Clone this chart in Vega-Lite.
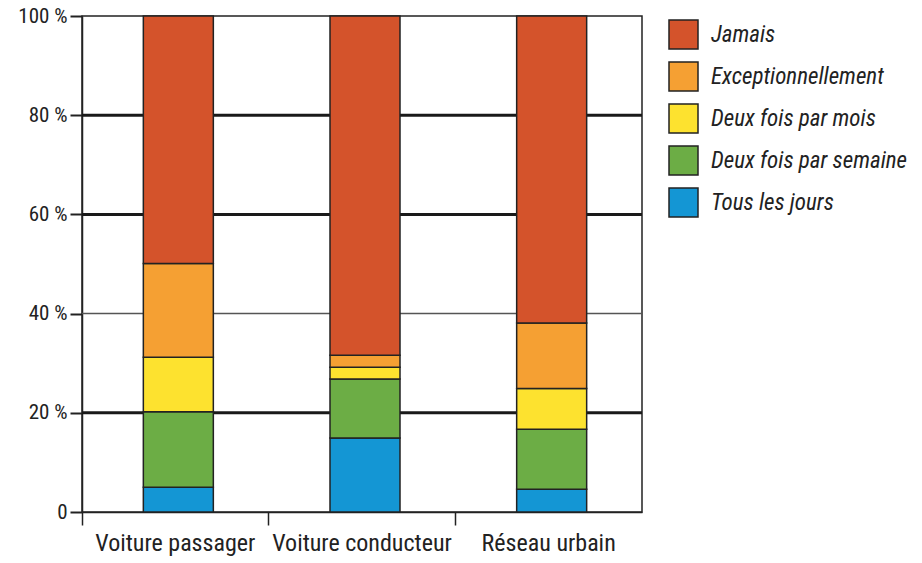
{
  "$schema": "https://vega.github.io/schema/vega-lite/v6.json",
  "width": 560,
  "height": 496,
  "autosize": {"type": "none"},
  "padding": {"left": 82, "top": 16, "right": 280, "bottom": 51},
  "background": "white",
  "config": {
    "view": {"stroke": "#222", "strokeWidth": 1.5},
    "font": "Liberation Sans Narrow, Roboto Condensed, DejaVu Sans Condensed, sans-serif"
  },
  "layer": [
    {
      "data": {"values": [{"niveau": 40}]},
      "mark": {"type": "rule", "color": "#555", "strokeWidth": 1.5},
      "encoding": {"y": {"field": "niveau", "type": "quantitative", "scale": {"domain": [0, 100]}}}
    },
    {
      "data": {"values": [{"niveau": 20}, {"niveau": 60}, {"niveau": 80}]},
      "mark": {"type": "rule", "color": "#1a1a1a", "strokeWidth": 3},
      "encoding": {"y": {"field": "niveau", "type": "quantitative"}}
    },
    {
      "data": {
        "values": [
          {"mode": "Voiture passager", "frequence": "Tous les jours", "ordre": 1, "pct": 5},
          {"mode": "Voiture passager", "frequence": "Deux fois par semaine", "ordre": 2, "pct": 15.2},
          {"mode": "Voiture passager", "frequence": "Deux fois par mois", "ordre": 3, "pct": 11},
          {"mode": "Voiture passager", "frequence": "Exceptionnellement", "ordre": 4, "pct": 18.9},
          {"mode": "Voiture passager", "frequence": "Jamais", "ordre": 5, "pct": 49.9},
          {"mode": "Voiture conducteur", "frequence": "Tous les jours", "ordre": 1, "pct": 14.9},
          {"mode": "Voiture conducteur", "frequence": "Deux fois par semaine", "ordre": 2, "pct": 11.9},
          {"mode": "Voiture conducteur", "frequence": "Deux fois par mois", "ordre": 3, "pct": 2.4},
          {"mode": "Voiture conducteur", "frequence": "Exceptionnellement", "ordre": 4, "pct": 2.4},
          {"mode": "Voiture conducteur", "frequence": "Jamais", "ordre": 5, "pct": 68.4},
          {"mode": "Réseau urbain", "frequence": "Tous les jours", "ordre": 1, "pct": 4.6},
          {"mode": "Réseau urbain", "frequence": "Deux fois par semaine", "ordre": 2, "pct": 12.1},
          {"mode": "Réseau urbain", "frequence": "Deux fois par mois", "ordre": 3, "pct": 8.2},
          {"mode": "Réseau urbain", "frequence": "Exceptionnellement", "ordre": 4, "pct": 13.2},
          {"mode": "Réseau urbain", "frequence": "Jamais", "ordre": 5, "pct": 61.9}
        ]
      },
      "mark": {"type": "bar", "size": 70, "xOffset": 3, "stroke": "#222", "strokeWidth": 1.5},
      "encoding": {
        "x": {
          "field": "mode",
          "type": "nominal",
          "sort": ["Voiture passager", "Voiture conducteur", "Réseau urbain"],
          "scale": {"paddingInner": 0, "paddingOuter": 0},
          "axis": {
            "title": null,
            "labelAngle": 0,
            "labelFontSize": 24,
            "labelColor": "#222",
            "labelPadding": 6,
            "bandPosition": 0,
            "tickSize": 13,
            "tickColor": "#222",
            "tickWidth": 1.5,
            "domainColor": "#222",
            "domainWidth": 1.5,
            "grid": false
          }
        },
        "y": {
          "field": "pct",
          "type": "quantitative",
          "stack": "zero",
          "scale": {"domain": [0, 100]},
          "axis": {
            "title": null,
            "values": [0, 20, 40, 60, 80, 100],
            "labelExpr": "datum.value == 0 ? '0' : datum.value + ' %'",
            "labelFontSize": 21,
            "labelColor": "#222",
            "labelPadding": 3,
            "tickSize": 12,
            "tickColor": "#222",
            "tickWidth": 2,
            "domainColor": "#222",
            "domainWidth": 1.5,
            "grid": false
          }
        },
        "color": {
          "field": "frequence",
          "type": "nominal",
          "scale": {
            "domain": ["Jamais", "Exceptionnellement", "Deux fois par mois", "Deux fois par semaine", "Tous les jours"],
            "range": ["#D4532B", "#F5A033", "#FDE22F", "#6CAD45", "#1496D4"]
          },
          "legend": {
            "title": null,
            "orient": "none",
            "legendX": 586,
            "legendY": 3,
            "padding": 0,
            "symbolType": "square",
            "symbolSize": 841,
            "symbolStrokeColor": "#222",
            "symbolStrokeWidth": 1.5,
            "symbolOpacity": 1,
            "labelFontSize": 23,
            "labelFontStyle": "italic",
            "labelColor": "#222",
            "labelOffset": 12,
            "labelLimit": 400,
            "rowPadding": 7
          }
        },
        "order": {"field": "ordre", "type": "quantitative", "sort": "ascending"}
      }
    }
  ]
}
